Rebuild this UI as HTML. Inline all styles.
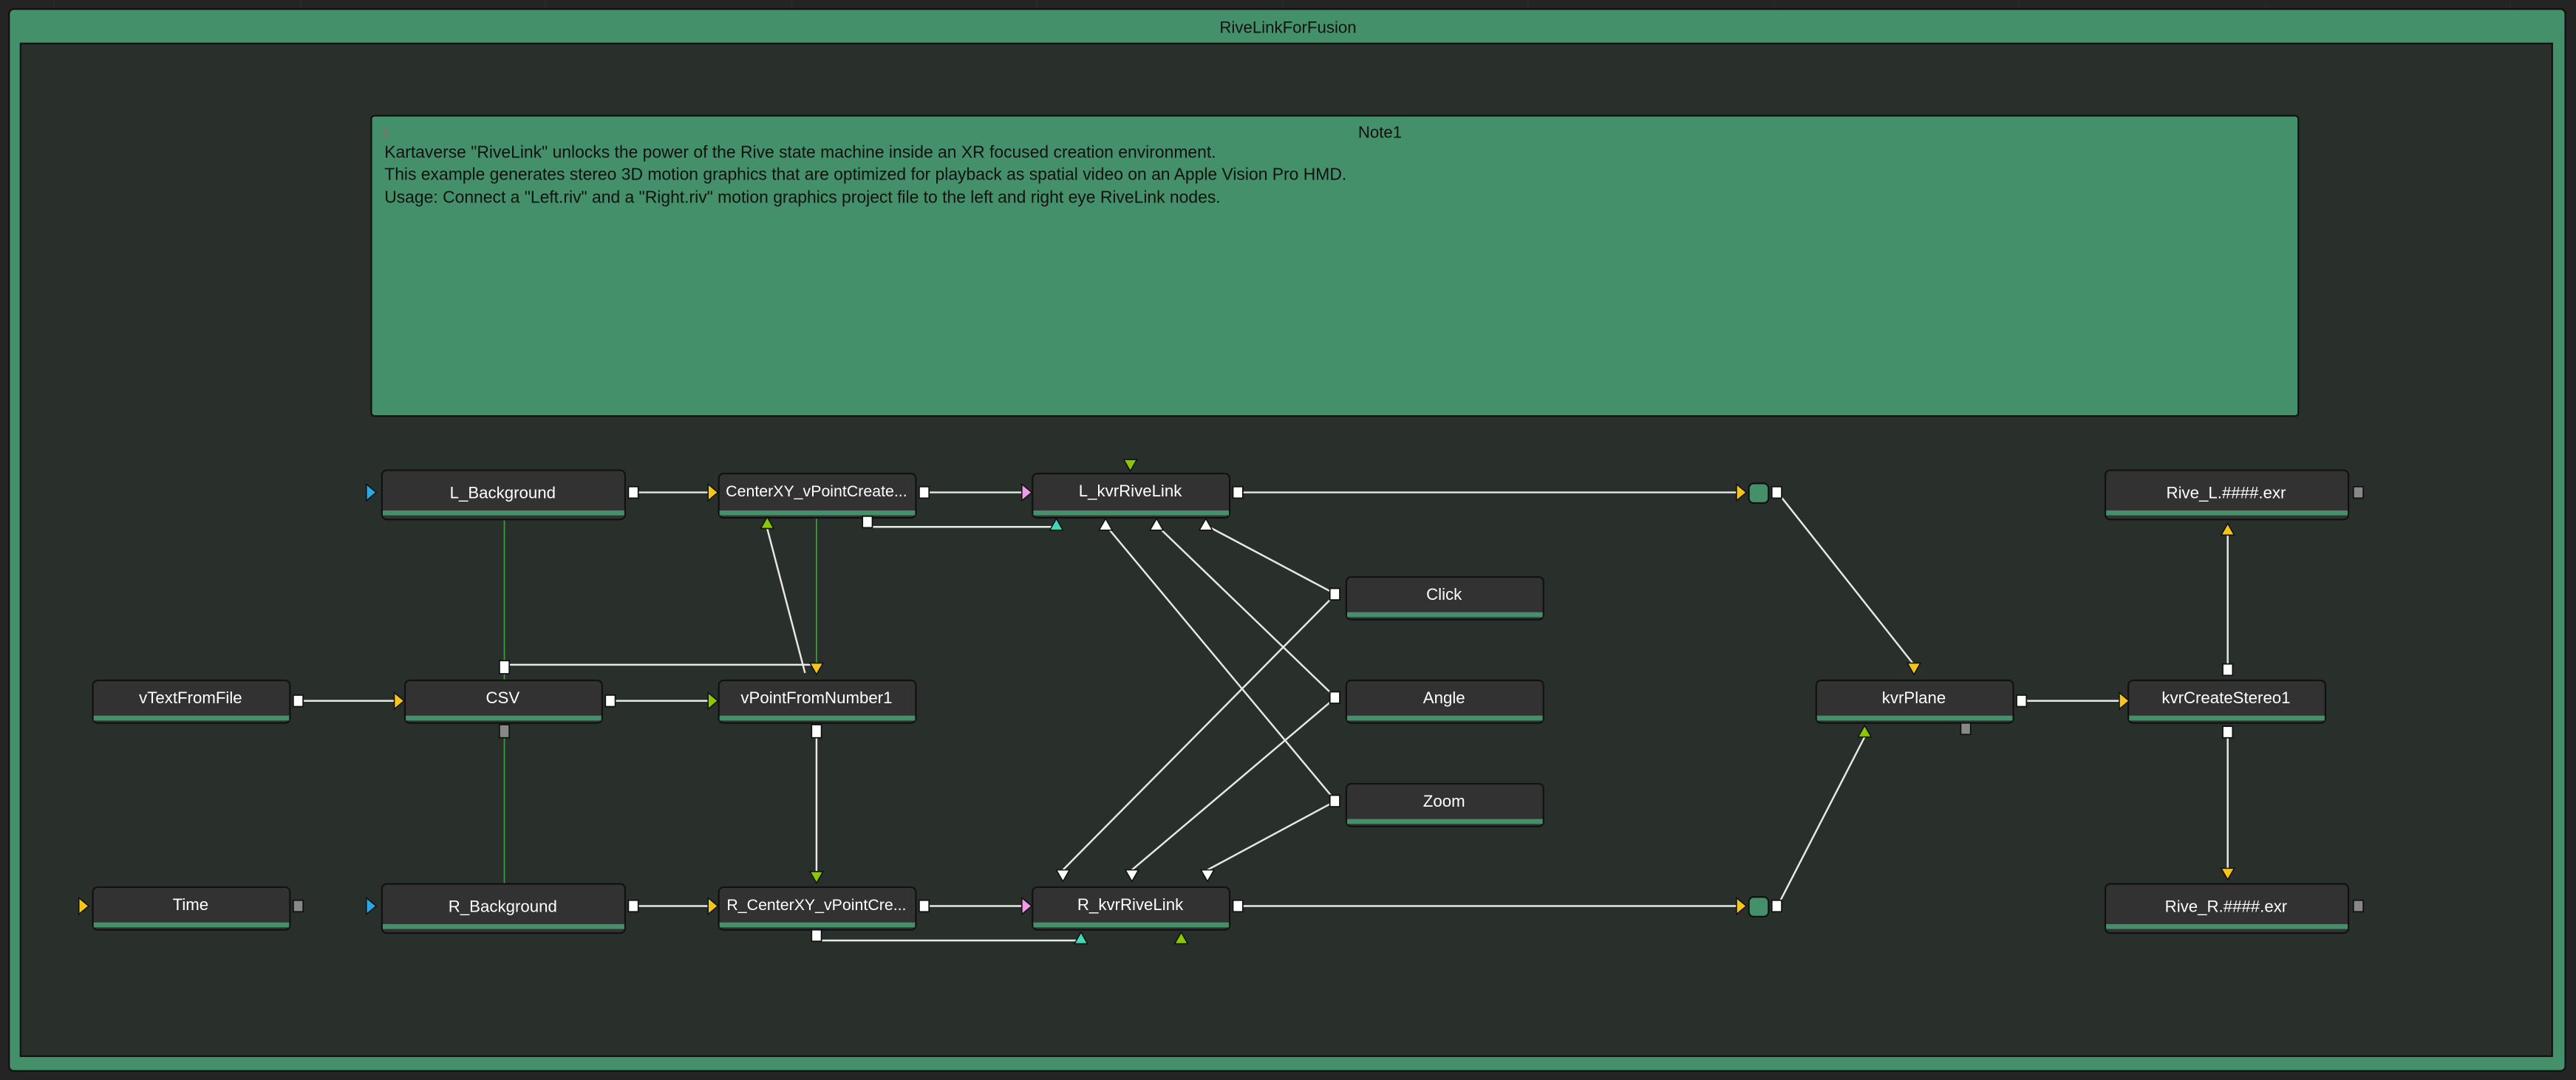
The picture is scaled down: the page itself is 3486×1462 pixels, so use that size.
<!DOCTYPE html>
<html><head><meta charset="utf-8"><style>
html,body{margin:0;padding:0;background:#232323;overflow:hidden}
svg{display:block}
text{font-family:"Liberation Sans",sans-serif}
</style></head><body>
<svg width="3486" height="1462" viewBox="0 0 1568 658" preserveAspectRatio="none" xmlns="http://www.w3.org/2000/svg">
<rect x="0" y="0" width="1568" height="658" fill="#242424"/>
<g stroke="#2c2c2c" stroke-width="0.6">
<line x1="33" y1="0" x2="33" y2="6"/><line x1="183" y1="0" x2="183" y2="6"/><line x1="332" y1="0" x2="332" y2="6"/><line x1="482" y1="0" x2="482" y2="6"/><line x1="631" y1="0" x2="631" y2="6"/><line x1="781" y1="0" x2="781" y2="6"/><line x1="930" y1="0" x2="930" y2="6"/><line x1="1080" y1="0" x2="1080" y2="6"/><line x1="1229" y1="0" x2="1229" y2="6"/><line x1="1379" y1="0" x2="1379" y2="6"/><line x1="1528" y1="0" x2="1528" y2="6"/>
</g>
<rect x="5.5" y="5.5" width="1556" height="647" rx="3" fill="#44906a" stroke="#111" stroke-width="1"/>
<text x="784" y="20" font-size="10" text-anchor="middle" fill="#111">RiveLinkForFusion</text>
<rect x="12.5" y="26.5" width="1541" height="617" fill="#29302c" stroke="#111" stroke-width="1"/>
<rect x="226" y="70.5" width="1173" height="183" rx="2" fill="#44906a" stroke="#111" stroke-width="1"/>
<text x="232" y="84" font-size="8" fill="#8a6a6a">X</text>
<text x="840" y="84" font-size="10" text-anchor="middle" fill="#111">Note1</text>
<text x="234" y="96" font-size="10.3" fill="#111">Kartaverse "RiveLink" unlocks the power of the Rive state machine inside an XR focused creation environment.</text>
<text x="234" y="109.5" font-size="10.3" fill="#111">This example generates stereo 3D motion graphics that are optimized for playback as spatial video on an Apple Vision Pro HMD.</text>
<text x="234" y="123.5" font-size="10.3" fill="#111">Usage: Connect a "Left.riv" and a "Right.riv" motion graphics project file to the left and right eye RiveLink nodes.</text>

<g stroke="#3c9a3c" stroke-width="0.8" fill="none">
<line x1="307" y1="316" x2="307" y2="414"/>
<line x1="307" y1="446" x2="307" y2="538"/>
<line x1="497" y1="315" x2="497" y2="409"/>
</g>
<g stroke="#e8e8e8" stroke-width="1.1" fill="none">
<line x1="386" y1="300" x2="432" y2="300"/>
<line x1="563" y1="300" x2="622" y2="300"/>
<polyline points="528,318 528,321 643,321"/>
<line x1="490" y1="410" x2="467" y2="322"/>
<polyline points="307,408 307,405 497,405"/>
<line x1="182" y1="427" x2="241" y2="427"/>
<line x1="372" y1="427" x2="432" y2="427"/>
<line x1="497" y1="446" x2="497" y2="532"/>
<line x1="386" y1="552" x2="432" y2="552"/>
<line x1="563" y1="552" x2="622" y2="552"/>
<polyline points="497,570 497,573 658,573"/>
<line x1="754" y1="300" x2="1058" y2="300"/>
<line x1="754" y1="552" x2="1058" y2="552"/>
<line x1="1082" y1="300" x2="1165" y2="405"/>
<line x1="1082" y1="552" x2="1135" y2="449"/>
<line x1="1231" y1="427" x2="1290" y2="427"/>
<line x1="1356" y1="408" x2="1356" y2="326"/>
<line x1="1356" y1="446" x2="1356" y2="529"/>
<line x1="813" y1="362" x2="734" y2="320"/>
<line x1="813" y1="362" x2="647" y2="530"/>
<line x1="813" y1="425" x2="704" y2="320"/>
<line x1="813" y1="425" x2="689" y2="530"/>
<line x1="813" y1="488" x2="673" y2="320"/>
<line x1="813" y1="488" x2="735" y2="530"/>
</g>

<g stroke="#111" stroke-width="1">
<rect x="232.5" y="286.5" width="148" height="30" rx="3" fill="#323232"/><rect x="233" y="311" width="147" height="3" fill="#44906a" stroke="none"/>
<rect x="232.5" y="538.5" width="148" height="30" rx="3" fill="#323232"/><rect x="233" y="563" width="147" height="3" fill="#44906a" stroke="none"/>
<rect x="1281.5" y="286.5" width="148" height="30" rx="3" fill="#323232"/><rect x="1282" y="311" width="147" height="3" fill="#44906a" stroke="none"/>
<rect x="1281.5" y="538.5" width="148" height="30" rx="3" fill="#323232"/><rect x="1282" y="563" width="147" height="3" fill="#44906a" stroke="none"/>
</g>
<g stroke="#111" stroke-width="1" fill="#323232">
<rect x="437.5" y="288.5" width="120" height="27" rx="3"/>
<rect x="628.5" y="288.5" width="120" height="27" rx="3"/>
<rect x="819.5" y="351.5" width="120" height="26" rx="3"/>
<rect x="819.5" y="414.5" width="120" height="26" rx="3"/>
<rect x="819.5" y="477.5" width="120" height="26" rx="3"/>
<rect x="56.5" y="414.5" width="120" height="26" rx="3"/>
<rect x="246.5" y="414.5" width="120" height="26" rx="3"/>
<rect x="437.5" y="414.5" width="120" height="26" rx="3"/>
<rect x="56.5" y="540.5" width="120" height="26" rx="3"/>
<rect x="437.5" y="540.5" width="120" height="26" rx="3"/>
<rect x="628.5" y="540.5" width="120" height="26" rx="3"/>
<rect x="1105.5" y="414.5" width="120" height="26" rx="3"/>
<rect x="1295.5" y="414.5" width="120" height="26" rx="3"/>
</g>
<g fill="#44906a">
<rect x="438" y="311" width="119" height="3"/>
<rect x="629" y="311" width="119" height="3"/>
<rect x="820" y="373" width="119" height="3"/>
<rect x="820" y="436" width="119" height="3"/>
<rect x="820" y="499" width="119" height="3"/>
<rect x="57" y="436" width="119" height="3"/>
<rect x="247" y="436" width="119" height="3"/>
<rect x="438" y="436" width="119" height="3"/>
<rect x="57" y="562" width="119" height="3"/>
<rect x="438" y="562" width="119" height="3"/>
<rect x="629" y="562" width="119" height="3"/>
<rect x="1106" y="436" width="119" height="3"/>
<rect x="1296" y="436" width="119" height="3"/>
</g>
<g font-size="10" fill="#fff" text-anchor="middle">
<text x="306" y="303.5">L_Background</text>
<text x="306" y="555.5">R_Background</text>
<text x="1355" y="303.5">Rive_L.####.exr</text>
<text x="1355" y="555.5">Rive_R.####.exr</text>
<text x="497" y="302.5" font-size="9.6">CenterXY_vPointCreate...</text>
<text x="688" y="302.5">L_kvrRiveLink</text>
<text x="879" y="365.5">Click</text>
<text x="879" y="428.5">Angle</text>
<text x="879" y="491.5">Zoom</text>
<text x="116" y="428.5">vTextFromFile</text>
<text x="306" y="428.5">CSV</text>
<text x="497" y="428.5">vPointFromNumber1</text>
<text x="116" y="554.5">Time</text>
<text x="497" y="554.5" font-size="9.6">R_CenterXY_vPointCre...</text>
<text x="688" y="554.5">R_kvrRiveLink</text>
<text x="1165" y="428.5">kvrPlane</text>
<text x="1355" y="428.5">kvrCreateStereo1</text>
</g>

<rect x="1064.5" y="294.5" width="12" height="12" rx="3" fill="#44906a" stroke="#111"/>
<rect x="1064.5" y="546.5" width="12" height="12" rx="3" fill="#44906a" stroke="#111"/>

<g stroke="#111" stroke-width="0.8" fill="#fff">
<rect x="382.5" y="296.5" width="6" height="7"/>
<rect x="559.5" y="296.5" width="6" height="7"/>
<rect x="750.5" y="296.5" width="6" height="7"/>
<rect x="1078.5" y="296.5" width="6" height="7"/>
<rect x="1078.5" y="548.5" width="6" height="7"/>
<rect x="525" y="314.5" width="6" height="7"/>
<rect x="178.5" y="423.5" width="6" height="7"/>
<rect x="368.5" y="423.5" width="6" height="7"/>
<rect x="304" y="402.5" width="6" height="8"/>
<rect x="494" y="441.5" width="6" height="8"/>
<rect x="382.5" y="548.5" width="6" height="7"/>
<rect x="559.5" y="548.5" width="6" height="7"/>
<rect x="750.5" y="548.5" width="6" height="7"/>
<rect x="494" y="566.5" width="6" height="7"/>
<rect x="809.5" y="358.5" width="6" height="7"/>
<rect x="809.5" y="421.5" width="6" height="7"/>
<rect x="809.5" y="484.5" width="6" height="7"/>
<rect x="1227.5" y="423.5" width="6" height="7"/>
<rect x="1353" y="404.5" width="6" height="7"/>
<rect x="1353" y="442.5" width="6" height="7"/>
</g>
<g stroke="#111" stroke-width="0.8" fill="#888">
<rect x="304" y="441.5" width="6" height="8"/>
<rect x="178.5" y="548.5" width="6" height="7"/>
<rect x="1193.5" y="440.5" width="6" height="7"/>
<rect x="1432.5" y="296.5" width="6" height="7"/>
<rect x="1432.5" y="548.5" width="6" height="7"/>
</g>

<g stroke="#111" stroke-width="0.7">
<polygon points="223,295 229,300 223,305" fill="#29a8e8"/>
<polygon points="223,547 229,552 223,557" fill="#29a8e8"/>
<polygon points="431,295 437,300 431,305" fill="#f5c518"/>
<polygon points="622,295 628,300 622,305" fill="#f09ae8"/>
<polygon points="240,422 246,427 240,432" fill="#f5c518"/>
<polygon points="431,422 437,427 431,432" fill="#8cc800"/>
<polygon points="48,547 54,552 48,557" fill="#f5c518"/>
<polygon points="431,547 437,552 431,557" fill="#f5c518"/>
<polygon points="622,547 628,552 622,557" fill="#f09ae8"/>
<polygon points="1057,295 1063,300 1057,305" fill="#f5c518"/>
<polygon points="1057,547 1063,552 1057,557" fill="#f5c518"/>
<polygon points="1290,422 1296,427 1290,432" fill="#f5c518"/>
<polygon points="684,280 692,280 688,287" fill="#8cc800"/>
<polygon points="493,404 501,404 497,411" fill="#f5c518"/>
<polygon points="493,531 501,531 497,538" fill="#8cc800"/>
<polygon points="643,530 651,530 647,537" fill="#fff"/>
<polygon points="685,530 693,530 689,537" fill="#fff"/>
<polygon points="731,530 739,530 735,537" fill="#fff"/>
<polygon points="1161,404 1169,404 1165,411" fill="#f5c518"/>
<polygon points="1352,529 1360,529 1356,536" fill="#f5c518"/>
<polygon points="463,322 471,322 467,315" fill="#8cc800"/>
<polygon points="639,323 647,323 643,316" fill="#40d8b8"/>
<polygon points="669,323 677,323 673,316" fill="#fff"/>
<polygon points="700,323 708,323 704,316" fill="#fff"/>
<polygon points="730,323 738,323 734,316" fill="#fff"/>
<polygon points="654,575 662,575 658,568" fill="#40d8b8"/>
<polygon points="715,575 723,575 719,568" fill="#8cc800"/>
<polygon points="1131,449 1139,449 1135,442" fill="#8cc800"/>
<polygon points="1352,326 1360,326 1356,319" fill="#f5c518"/>
</g>
</svg>
</body></html>
